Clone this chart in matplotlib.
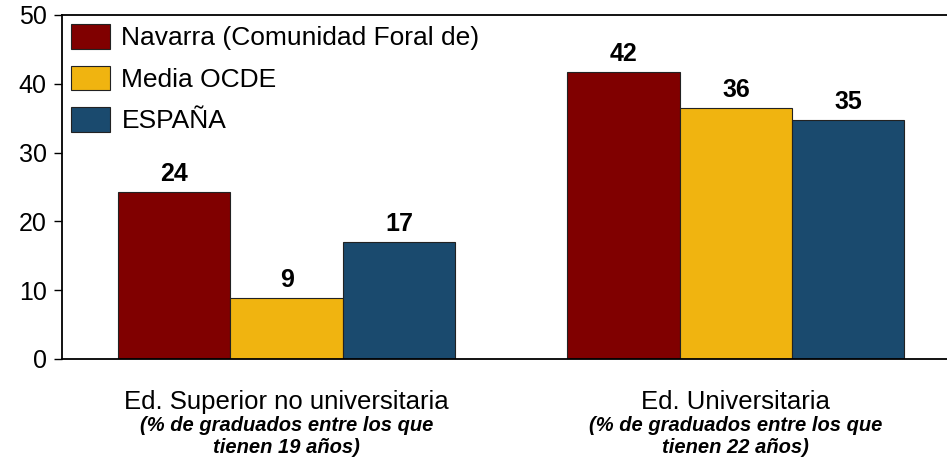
import numpy as np
import matplotlib.pyplot as plt

plt.rcParams['font.family'] = ['Liberation Sans', 'DejaVu Sans']

grupos = ['Ed. Superior no universitaria', 'Ed. Universitaria']
subtitulos = ['(% de graduados entre los que\ntienen 19 años)',
              '(% de graduados entre los que\ntienen 22 años)']
series = ['Navarra (Comunidad Foral de)', 'Media OCDE', 'ESPAÑA']
navarra = [24.3, 41.7]
ocde = [8.9, 36.4]
espana = [17.0, 34.7]
etiquetas = [['24', '42'], ['9', '36'], ['17', '35']]
colores = ['#800000', '#F0B410', '#1A4A6E']

fig = plt.figure(figsize=(9.47, 4.65), dpi=100)
ax = fig.add_axes([0.0655, 0.228, 0.9345, 0.740])

x = np.arange(len(grupos))
w = 0.25
for i, (vals, nombre) in enumerate(zip([navarra, ocde, espana], series)):
    pos = x + (i - 1) * w
    ax.bar(pos, vals, w, color=colores[i], edgecolor='#222222', linewidth=0.8,
           label=nombre)
    for p, v, t in zip(pos, vals, etiquetas[i]):
        ax.text(p, v + 1.6, t, ha='center', va='baseline', fontsize=18,
                fontweight='bold')

ax.set_xlim(-0.5, 1.47)
ax.set_ylim(0, 50)
ax.set_yticks([0, 10, 20, 30, 40, 50])
ax.tick_params(axis='y', labelsize=18, length=6, width=1, pad=5)
ax.set_xticks([])
ax.spines['right'].set_visible(False)
for s in ['left', 'bottom', 'top']:
    ax.spines[s].set_linewidth(1.3)

# etiquetas de grupo bajo el eje
for xi, g, sub in zip(x, grupos, subtitulos):
    ax.text(xi, -7.3, g, ha='center', va='baseline', fontsize=18.5,
            clip_on=False)
    for k, linea in enumerate(sub.split('\n')):
        ax.text(xi, -10.5 - 3.2 * k, linea, ha='center', va='baseline',
                fontsize=14.5, fontweight='bold', fontstyle='italic',
                clip_on=False)

ax.legend(loc='upper left', frameon=False, fontsize=19,
          handlelength=1.45, handleheight=1.05, handletextpad=0.45,
          labelspacing=0.58, borderaxespad=0.25, borderpad=0.1)

fig.savefig('out.png', dpi=100)
